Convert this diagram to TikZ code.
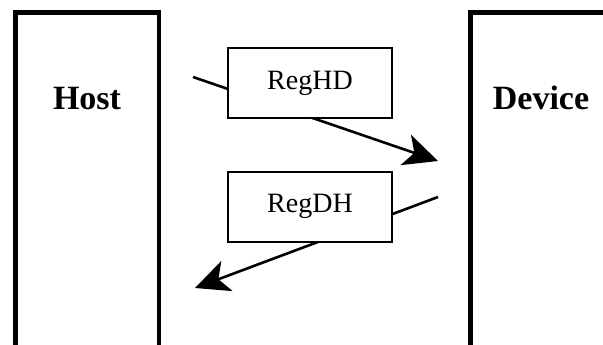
\documentclass[tikz,border=0pt]{standalone}
\usepackage{fontspec}
\setmainfont{Liberation Serif}
\usetikzlibrary{arrows.meta}
\tikzset{
  side/.style={line width=4.5pt},
  reg/.style={draw, line width=1.8pt, fill=white, minimum width=164pt, minimum height=70pt, inner sep=0pt, font=\fontsize{28}{30}\selectfont},
  big/.style={font=\bfseries\fontsize{34}{36}\selectfont, anchor=base},
  flow/.style={line width=2.6pt, -{Stealth[length=34pt, width=32pt, inset=9pt]}}
}
\begin{document}
\begin{tikzpicture}[x=1pt,y=-1pt]
\useasboundingbox (0,0) rectangle (603,345);
\clip (0,0) rectangle (603,345);
\fill[white] (0,0) rectangle (603,345);
% Host and Device columns
\draw[side] (15.5,360) -- (15.5,12.5) -- (159,12.5) -- (159,360);
\draw[side] (470.5,360) -- (470.5,12.5) -- (620,12.5);
\node[big] (host) at (87,110) {Host};
\node[big] (device) at (541,110) {Device};
% connectors
\coordinate (a1) at (193,77);
\coordinate (a2) at (438,161);
\coordinate (b1) at (438,197);
\coordinate (b2) at (195,288);
\draw[flow] (a1) -- (a2);
\draw[flow] (b1) -- (b2);
% registers
\node[reg] (reghd) at (310,83.2) {RegHD};
\node[reg] (regdh) at (310,206.7) {RegDH};
\end{tikzpicture}
\end{document}
